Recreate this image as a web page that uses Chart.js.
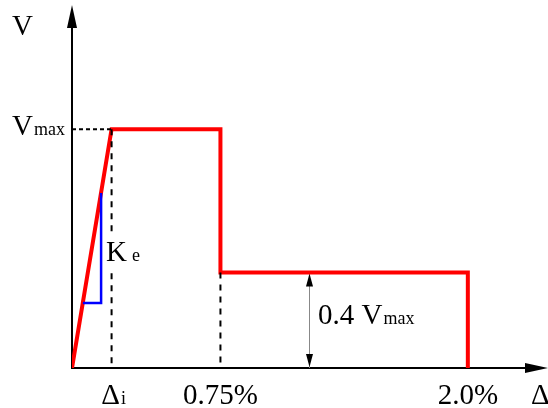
<!DOCTYPE html>
<html>
<head>
<meta charset="utf-8">
<script src="https://cdn.jsdelivr.net/npm/chart.js@4"></script>
<style>
  html, body { margin: 0; padding: 0; background: #fff; }
  #wrap { width: 548px; height: 408px; position: relative; }
</style>
</head>
<body>
<div id="wrap"><canvas id="c"></canvas></div>
<script>
// ---- data (x: drift in %, y: shear as fraction of Vmax) ----
const drift = [0, 0.2, 0.75, 0.75, 2.0, 2.0];
const shear = [0, 1, 1, 0.4, 0.4, 0];
const keX = [0.055, 0.147, 0.147];
const keY = [0.272, 0.272, 0.733];
const tickValues = [0.2, 0.75, 2.0];
const tickLabels = [['Δ', 'i'], ['0.75%', ''], ['2.0%', '']];
const vmaxLevel = 1;
const residualLevel = 0.4;
const dimX = 1.2;

const pts = (xs, ys) => xs.map((x, i) => ({ x: x, y: ys[i] }));

const serif = '"Liberation Serif", "Times New Roman", serif';

const annot = {
  id: 'annot',
  beforeDatasetsDraw(chart) {
    const ctx = chart.ctx;
    const xs = chart.scales.x, ys = chart.scales.y;
    const x0 = xs.getPixelForValue(0), y0 = ys.getPixelForValue(0);
    const xr = chart.chartArea.right + 1, yt = chart.chartArea.top;
    ctx.save();
    ctx.strokeStyle = '#000';
    ctx.fillStyle = '#000';
    ctx.lineWidth = 2;
    // y axis
    ctx.beginPath(); ctx.moveTo(x0, y0 + 1); ctx.lineTo(x0, yt + 18); ctx.stroke();
    ctx.beginPath(); ctx.moveTo(x0, yt); ctx.lineTo(x0 - 5, yt + 23); ctx.lineTo(x0 + 5, yt + 23); ctx.closePath(); ctx.fill();
    // x axis
    ctx.beginPath(); ctx.moveTo(x0 - 1, y0); ctx.lineTo(xr - 18, y0); ctx.stroke();
    ctx.beginPath(); ctx.moveTo(xr, y0); ctx.lineTo(xr - 23, y0 - 5); ctx.lineTo(xr - 23, y0 + 5); ctx.closePath(); ctx.fill();

    // dimension arrow
    const dx = xs.getPixelForValue(dimX);
    const dTop = ys.getPixelForValue(residualLevel);
    ctx.strokeStyle = '#888';
    ctx.lineWidth = 1;
    ctx.beginPath(); ctx.moveTo(dx, dTop); ctx.lineTo(dx, y0); ctx.stroke();
    ctx.fillStyle = '#000';
    ctx.beginPath(); ctx.moveTo(dx, dTop + 1); ctx.lineTo(dx - 3.5, dTop + 14); ctx.lineTo(dx + 3.5, dTop + 14); ctx.closePath(); ctx.fill();
    ctx.beginPath(); ctx.moveTo(dx, y0 - 1); ctx.lineTo(dx - 3.5, y0 - 14); ctx.lineTo(dx + 3.5, y0 - 14); ctx.closePath(); ctx.fill();
    ctx.restore();
  },
  afterDatasetsDraw(chart) {
    const ctx = chart.ctx;
    const xs = chart.scales.x, ys = chart.scales.y;
    const x0 = xs.getPixelForValue(0), y0 = ys.getPixelForValue(0);
    ctx.save();
    ctx.fillStyle = '#000';
    ctx.textBaseline = 'alphabetic';
    ctx.textAlign = 'left';
    const big = '29px ' + serif, small = '18px ' + serif;
    function two(a, b, x, y) {
      ctx.font = big; ctx.fillText(a, x, y);
      const w = ctx.measureText(a).width;
      ctx.font = small; ctx.fillText(b, x + w + 1, y);
    }
    // axis titles
    ctx.font = big; ctx.fillText('V', 12, 35);
    ctx.font = big; ctx.fillText('Δ', 531, y0 + 36);
    // Vmax label
    two('V', 'max', 12, ys.getPixelForValue(vmaxLevel) + 6);
    // Ke label (white box hides the dashed line behind it)
    ctx.fillStyle = '#fff';
    ctx.fillRect(105, 236, 22, 32);
    ctx.fillStyle = '#000';
    ctx.font = big; ctx.fillText('K', 106, 261);
    ctx.font = small; ctx.fillText('e', 132, 261);
    // 0.4 Vmax
    ctx.font = big;
    const s = '0.4 ';
    const by = ys.getPixelForValue(residualLevel) + 52;
    ctx.fillText(s, 318, by);
    const w = ctx.measureText(s).width;
    two('V', 'max', 318 + w, by);
    // tick labels
    tickValues.forEach((v, i) => {
      const [a, b] = tickLabels[i];
      ctx.font = big;
      const wa = ctx.measureText(a).width;
      ctx.font = small;
      const wb = b ? ctx.measureText(b).width + 1 : 0;
      const px = xs.getPixelForValue(v) - (wa + wb) / 2 + (b ? 2 : 0);
      two(a, b, px, y0 + 36);
    });
    ctx.restore();
  }
};

new Chart(document.getElementById('c'), {
  type: 'scatter',
  data: {
    datasets: [
      { data: pts([0, 0.2], [vmaxLevel, vmaxLevel]), showLine: true, borderColor: '#000', borderWidth: 2, borderDash: [4, 3], pointRadius: 0 },
      { data: pts([0.2, 0.2], [vmaxLevel, 0]), showLine: true, borderColor: '#000', borderWidth: 2, borderDash: [6, 6], pointRadius: 0 },
      { data: pts([0.75, 0.75], [residualLevel, 0]), showLine: true, borderColor: '#000', borderWidth: 2, borderDash: [6, 6], pointRadius: 0 },
      { data: pts(keX, keY), showLine: true, borderColor: '#0000ff', borderWidth: 2.5, pointRadius: 0, borderJoinStyle: 'miter' },
      { data: pts(drift, shear), showLine: true, borderColor: '#ff0000', borderWidth: 4, pointRadius: 0, borderJoinStyle: 'miter' }
    ]
  },
  options: {
    responsive: true,
    maintainAspectRatio: false,
    animation: false,
    layout: { padding: { left: 72, right: 1, top: 5, bottom: 40 } },
    plugins: { legend: { display: false }, tooltip: { enabled: false } },
    scales: {
      x: { type: 'linear', min: 0, max: 2.4, display: false },
      y: { type: 'linear', min: 0, max: 1.52, display: false }
    }
  },
  plugins: [annot]
});
</script>
</body>
</html>
